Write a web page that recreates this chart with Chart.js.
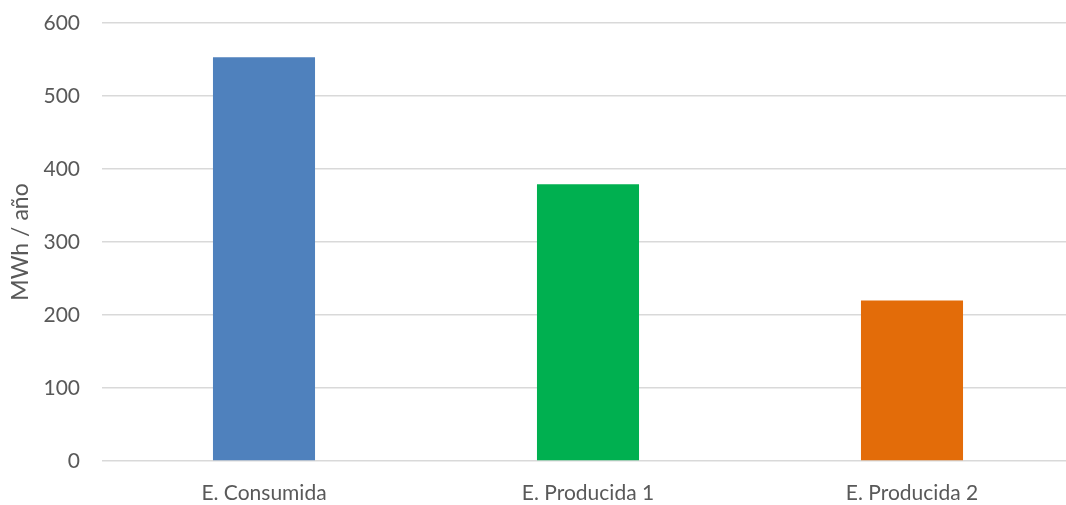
<!DOCTYPE html>
<html>
<head>
<meta charset="utf-8">
<script src="https://cdn.jsdelivr.net/npm/chart.js@4"></script>
<style>
  html, body { margin: 0; padding: 0; background: #fff; overflow: hidden; }
  #wrap { width: 1066px; height: 505px; overflow: hidden; position: relative; }
  #box { width: 1080px; height: 505px; position: absolute; left: 0; top: 0; }
</style>
</head>
<body>
<div id="wrap"><div id="box"><canvas id="c"></canvas></div></div>
<script>
const categories = ["E. Consumida", "E. Producida 1", "E. Producida 2"];
const values = [553, 379, 220];
const barColors = ["#4F81BD", "#00B050", "#E36C09"];
const yTitle = "MWh / año";
const yMin = 0, yMax = 600, yStep = 100;

const FONT = "Lato, 'Open Sans', sans-serif";

new Chart(document.getElementById("c"), {
  type: "bar",
  data: {
    labels: categories,
    datasets: [{
      data: values,
      backgroundColor: barColors,
      borderWidth: 0,
      categoryPercentage: 1,
      barPercentage: 0.315
    }]
  },
  options: {
    responsive: true,
    maintainAspectRatio: false,
    animation: false,
    devicePixelRatio: 1,
    layout: { padding: { top: 23, right: 6, bottom: 0, left: 0 } },
    plugins: { legend: { display: false }, tooltip: { enabled: false } },
    scales: {
      x: {
        grid: { display: false },
        border: { display: false },
        ticks: { color: "#595959", font: { family: FONT, size: 21 }, padding: 12 },
        afterFit: (s) => { s.height = 44; s.paddingLeft = 0; s.paddingRight = 0; }
      },
      y: {
        min: yMin, max: yMax,
        ticks: { stepSize: yStep, color: "#595959", font: { family: FONT, size: 21 }, padding: 22 },
        grid: { color: "#d9d9d9", lineWidth: 1.5, drawTicks: false },
        border: { display: false },
        title: { display: true, text: yTitle, color: "#595959", font: { family: FONT, size: 23 }, padding: { top: 7, bottom: 0 } },
        afterFit: (s) => { s.width = 102; s.paddingTop = 0; s.paddingBottom = 0; }
      }
    }
  }
});
</script>
</body>
</html>
